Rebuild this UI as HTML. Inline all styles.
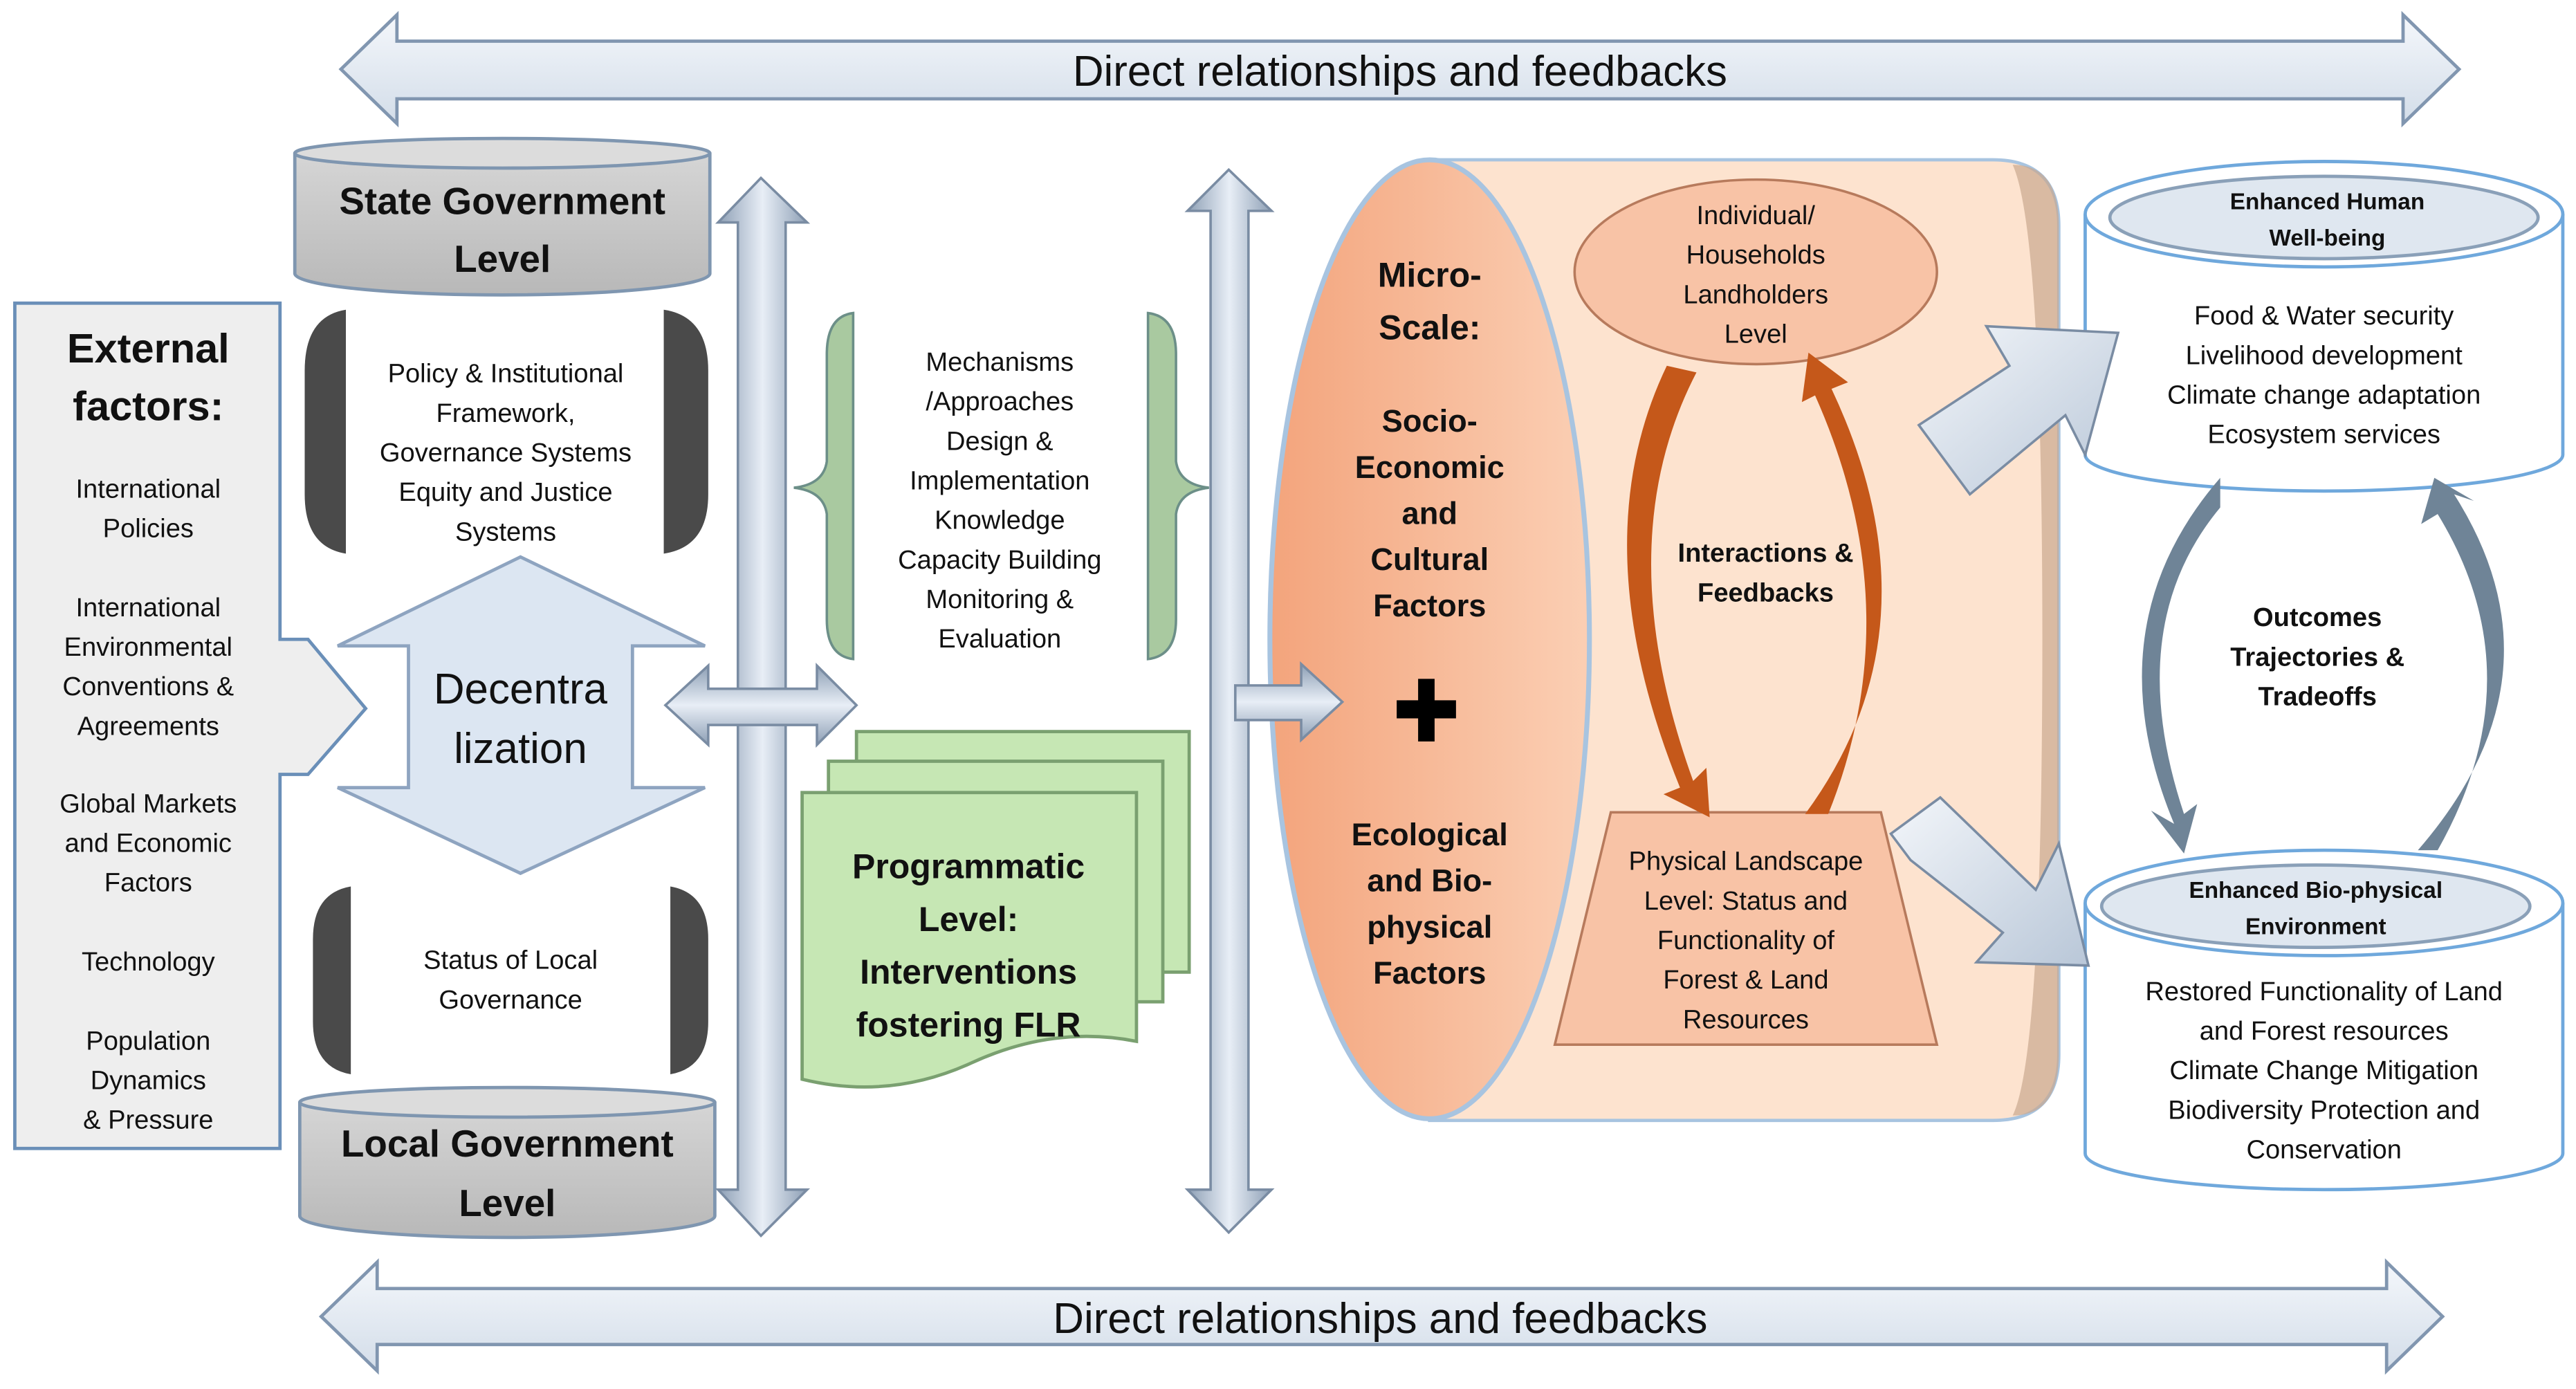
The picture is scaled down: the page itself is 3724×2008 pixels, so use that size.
<!DOCTYPE html>
<html><head><meta charset="utf-8"><style>
html,body{margin:0;padding:0;background:#fff;}
svg{display:block;}
text{font-family:"Liberation Sans",sans-serif;fill:#111;text-anchor:middle;}
.n{font-size:16px;}
.b{font-weight:bold;}
</style></head><body>
<svg width="3724" height="2008" viewBox="0 0 1564 843" preserveAspectRatio="none" xmlns="http://www.w3.org/2000/svg">
<defs>
<linearGradient id="gb" x1="0" y1="0" x2="0" y2="1"><stop offset="0" stop-color="#f4f7fb"/><stop offset="1" stop-color="#d3dde9"/></linearGradient>
<linearGradient id="gv" x1="0" y1="0" x2="1" y2="0"><stop offset="0" stop-color="#8d9fb5"/><stop offset="0.5" stop-color="#e8eef6"/><stop offset="1" stop-color="#8d9fb5"/></linearGradient>
<linearGradient id="gh" x1="0" y1="0" x2="0" y2="1"><stop offset="0" stop-color="#8d9fb5"/><stop offset="0.5" stop-color="#e8eef6"/><stop offset="1" stop-color="#8d9fb5"/></linearGradient>
<linearGradient id="gg" x1="0" y1="0" x2="0" y2="1"><stop offset="0" stop-color="#d5d5d5"/><stop offset="1" stop-color="#b8b8b8"/></linearGradient>
<linearGradient id="go" x1="0" y1="0" x2="1" y2="0"><stop offset="0" stop-color="#f3a47c"/><stop offset="1" stop-color="#fbcfb4"/></linearGradient>
<linearGradient id="ga" x1="0" y1="0" x2="1" y2="1"><stop offset="0" stop-color="#f3f6fa"/><stop offset="1" stop-color="#b9c7d8"/></linearGradient>
</defs>

<!-- top arrow -->
<polygon points="207,42 241,9 241,25 1459,25 1459,9 1493,42 1459,75 1459,60 241,60 241,75" fill="url(#gb)" stroke="#8196b0" stroke-width="2"/>
<text x="850" y="52" style="font-size:26px">Direct relationships and feedbacks</text>
<!-- bottom arrow -->
<polygon points="195,799 229,766 229,782 1449,782 1449,766 1483,799 1449,832 1449,816 229,816 229,832" fill="url(#gb)" stroke="#8196b0" stroke-width="2"/>
<text x="838" y="809" style="font-size:26px">Direct relationships and feedbacks</text>

<!-- External factors -->
<polygon points="9,184 170,184 170,388 187,388 222,430 187,470 170,470 170,697 9,697" fill="#eeeeee" stroke="#6a8fb8" stroke-width="2"/>
<text x="90" y="220" class="b" style="font-size:25px">External</text>
<text x="90" y="255" class="b" style="font-size:25px">factors:</text>
<text x="90" y="302" class="n">International</text><text x="90" y="326" class="n">Policies</text>
<text x="90" y="374" class="n">International</text><text x="90" y="398" class="n">Environmental</text><text x="90" y="422" class="n">Conventions &amp;</text><text x="90" y="446" class="n">Agreements</text>
<text x="90" y="493" class="n">Global Markets</text><text x="90" y="517" class="n">and Economic</text><text x="90" y="541" class="n">Factors</text>
<text x="90" y="589" class="n">Technology</text>
<text x="90" y="637" class="n">Population</text><text x="90" y="661" class="n">Dynamics</text><text x="90" y="685" class="n">&amp; Pressure</text>

<!-- State cylinder -->
<path d="M179,94 L179,166 A126,13 0 0 0 431,166 L431,94 Z" fill="url(#gg)" stroke="#7f96b0" stroke-width="2"/>
<ellipse cx="305" cy="93" rx="126" ry="9" fill="#dcdcdc" stroke="#7f96b0" stroke-width="2"/>
<text x="305" y="130" class="b" style="font-size:23px">State Government</text>
<text x="305" y="165" class="b" style="font-size:23px">Level</text>
<!-- Local cylinder -->
<path d="M182,670 L182,738 A126,13 0 0 0 434,738 L434,670 Z" fill="url(#gg)" stroke="#7f96b0" stroke-width="2"/>
<ellipse cx="308" cy="669" rx="126" ry="9" fill="#dcdcdc" stroke="#7f96b0" stroke-width="2"/>
<text x="308" y="702" class="b" style="font-size:23px">Local Government</text>
<text x="308" y="738" class="b" style="font-size:23px">Level</text>

<!-- dark brackets -->
<path d="M210,188 Q185,192 185,225 L185,300 Q185,332 210,336 Z" fill="#4a4a4a"/>
<path d="M403,188 Q430,192 430,225 L430,300 Q430,332 403,336 Z" fill="#4a4a4a"/>
<path d="M213,538 Q190,542 190,570 L190,620 Q190,648 213,652 Z" fill="#4a4a4a"/>
<path d="M407,538 Q430,542 430,570 L430,620 Q430,648 407,652 Z" fill="#4a4a4a"/>
<text x="307" y="232" class="n">Policy &amp; Institutional</text>
<text x="307" y="256" class="n">Framework,</text>
<text x="307" y="280" class="n">Governance Systems</text>
<text x="307" y="304" class="n">Equity and Justice</text>
<text x="307" y="328" class="n">Systems</text>
<text x="310" y="588" class="n">Status of Local</text>
<text x="310" y="612" class="n">Governance</text>

<!-- Decentralization -->
<polygon points="316,338 428,392 384,392 384,478 428,478 316,530 205,478 248,478 248,392 205,392" fill="#dce6f2" stroke="#8ea4c0" stroke-width="2"/>
<text x="316" y="427" style="font-size:26px">Decentra</text>
<text x="316" y="463" style="font-size:26px">lization</text>

<!-- vertical arrow 1 -->
<polygon points="462,108 490,135 477,135 477,722 490,722 462,750 436,722 448,722 448,135 436,135" fill="url(#gv)" stroke="#7a8ca3" stroke-width="1.5"/>
<polygon points="404,428 430,404 430,418 496,418 496,404 520,428 496,452 496,440 430,440 430,452" fill="url(#gh)" stroke="#7a8ca3" stroke-width="1.5"/>

<!-- green braces -->
<path d="M518,190 Q502,192 502,215 L502,280 Q500,294 482,296 Q500,298 502,312 L502,376 Q502,398 518,400 Z" fill="#a9c9a0" stroke="#6c8f88" stroke-width="1.5"/>
<path d="M697,190 Q714,192 714,215 L714,280 Q716,294 734,296 Q716,298 714,312 L714,376 Q714,398 697,400 Z" fill="#a9c9a0" stroke="#6c8f88" stroke-width="1.5"/>
<text x="607" y="225" class="n">Mechanisms</text>
<text x="607" y="249" class="n">/Approaches</text>
<text x="607" y="273" class="n">Design &amp;</text>
<text x="607" y="297" class="n">Implementation</text>
<text x="607" y="321" class="n">Knowledge</text>
<text x="607" y="345" class="n">Capacity Building</text>
<text x="607" y="369" class="n">Monitoring &amp;</text>
<text x="607" y="393" class="n">Evaluation</text>

<!-- Programmatic pages -->
<rect x="520" y="444" width="202" height="146" fill="#c6e7b4" stroke="#7aa070" stroke-width="2"/>
<rect x="503" y="462" width="203" height="146" fill="#c6e7b4" stroke="#7aa070" stroke-width="2"/>
<path d="M487,481 L690,481 L690,632 Q640,622 590,645 Q540,668 487,655 Z" fill="#c6e7b4" stroke="#7aa070" stroke-width="2"/>
<text x="588" y="533" class="b" style="font-size:21px">Programmatic</text>
<text x="588" y="565" class="b" style="font-size:21px">Level:</text>
<text x="588" y="597" class="b" style="font-size:21px">Interventions</text>
<text x="588" y="629" class="b" style="font-size:21px">fostering FLR</text>

<!-- vertical arrow 2 -->
<polygon points="746,103 772,128 758,128 758,722 772,722 746,748 721,722 735,722 735,128 721,128" fill="url(#gv)" stroke="#7a8ca3" stroke-width="1.5"/>

<!-- big cylinder -->
<path d="M868,97 L1210,97 Q1250,97 1250,137 L1250,640 Q1250,680 1210,680 L868,680 Z" fill="#fde3cf" stroke="#a8c4e0" stroke-width="2"/>
<path d="M1222,100 Q1250,100 1250,137 L1250,640 Q1250,677 1222,677 Q1240,640 1240,388 Q1240,140 1222,100 Z" fill="#c9a88f" opacity="0.7"/>
<ellipse cx="868" cy="388" rx="97" ry="291" fill="url(#go)" stroke="#a8c4e0" stroke-width="3"/>
<polygon points="750,416 790,416 790,403 815,426 790,449 790,437 750,437" fill="url(#gh)" stroke="#7a8ca3" stroke-width="1.5"/>
<text x="868" y="174" class="b" style="font-size:21px">Micro-</text>
<text x="868" y="206" class="b" style="font-size:21px">Scale:</text>
<text x="868" y="262" class="b" style="font-size:19px">Socio-</text>
<text x="868" y="290" class="b" style="font-size:19px">Economic</text>
<text x="868" y="318" class="b" style="font-size:19px">and</text>
<text x="868" y="346" class="b" style="font-size:19px">Cultural</text>
<text x="868" y="374" class="b" style="font-size:19px">Factors</text>
<path d="M861,412 h10 v13 h13 v11 h-13 v14 h-10 v-14 h-13 v-11 h13 z" fill="#000"/>
<text x="868" y="513" class="b" style="font-size:19px">Ecological</text>
<text x="868" y="541" class="b" style="font-size:19px">and Bio-</text>
<text x="868" y="569" class="b" style="font-size:19px">physical</text>
<text x="868" y="597" class="b" style="font-size:19px">Factors</text>

<ellipse cx="1066" cy="165" rx="110" ry="56" fill="#f8c3a6" stroke="#b77a5c" stroke-width="1.5"/>
<text x="1066" y="136" class="n">Individual/</text>
<text x="1066" y="160" class="n">Households</text>
<text x="1066" y="184" class="n">Landholders</text>
<text x="1066" y="208" class="n">Level</text>
<polygon points="978,493 1142,493 1176,634 944,634" fill="#f8c3a6" stroke="#b77a5c" stroke-width="1.5"/>
<text x="1060" y="528" class="n">Physical Landscape</text>
<text x="1060" y="552" class="n">Level: Status and</text>
<text x="1060" y="576" class="n">Functionality of</text>
<text x="1060" y="600" class="n">Forest &amp; Land</text>
<text x="1060" y="624" class="n">Resources</text>
<text x="1072" y="341" class="b" style="font-size:16px">Interactions &amp;</text>
<text x="1072" y="365" class="b" style="font-size:16px">Feedbacks</text>
<!-- orange arrows -->
<path d="M1012,222 Q960,330 1020,478 L1010,482 L1038,496 L1036,466 L1028,474 Q976,330 1030,226 Z" fill="#c5581a"/>
<path d="M1096,494 Q1180,380 1112,236 L1122,232 L1098,214 L1094,244 L1102,240 Q1160,370 1110,494 Z" fill="#c5581a"/>

<!-- right cylinders -->
<path d="M1266,130 L1266,276 A145,22 0 0 0 1556,276 L1556,130" fill="#fff" stroke="#6fa8dc" stroke-width="2"/>
<ellipse cx="1411" cy="130" rx="145" ry="32" fill="#fff" stroke="#6fa8dc" stroke-width="2"/>
<ellipse cx="1411" cy="132" rx="130" ry="25" fill="#dfe7f0" stroke="#8aa0b8" stroke-width="2"/>
<text x="1413" y="127" class="b" style="font-size:14px">Enhanced Human</text>
<text x="1413" y="149" class="b" style="font-size:14px">Well-being</text>
<text x="1411" y="197" class="n">Food &amp; Water security</text>
<text x="1411" y="221" class="n">Livelihood development</text>
<text x="1411" y="245" class="n">Climate change adaptation</text>
<text x="1411" y="269" class="n">Ecosystem services</text>

<path d="M1266,548 L1266,700 A145,22 0 0 0 1556,700 L1556,548" fill="#fff" stroke="#6fa8dc" stroke-width="2"/>
<ellipse cx="1411" cy="548" rx="145" ry="32" fill="#fff" stroke="#6fa8dc" stroke-width="2"/>
<ellipse cx="1406" cy="550" rx="130" ry="25" fill="#dfe7f0" stroke="#8aa0b8" stroke-width="2"/>
<text x="1406" y="545" class="b" style="font-size:14px">Enhanced Bio-physical</text>
<text x="1406" y="567" class="b" style="font-size:14px">Environment</text>
<text x="1411" y="607" class="n">Restored Functionality of Land</text>
<text x="1411" y="631" class="n">and Forest resources</text>
<text x="1411" y="655" class="n">Climate Change Mitigation</text>
<text x="1411" y="679" class="n">Biodiversity Protection and</text>
<text x="1411" y="703" class="n">Conservation</text>

<!-- block arrows -->
<polygon points="1165,258 1220,222 1206,198 1286,202 1266,276 1254,252 1196,300" fill="url(#ga)" stroke="#7a8ca3" stroke-width="1.5"/>
<polygon points="1148,506 1178,484 1236,540 1250,512 1268,586 1200,584 1216,566 1160,522" fill="url(#ga)" stroke="#7a8ca3" stroke-width="1.5"/>

<!-- gray loop arrows -->
<path d="M1348,290 Q1270,380 1320,500 L1306,492 L1326,518 L1334,488 L1326,494 Q1288,380 1348,308 Z" fill="#6f8497"/>
<path d="M1468,516 Q1560,410 1490,300 L1502,304 L1478,290 L1470,318 L1480,312 Q1540,410 1480,516 Z" fill="#6f8497"/>
<text x="1407" y="380" class="b" style="font-size:16px">Outcomes</text>
<text x="1407" y="404" class="b" style="font-size:16px">Trajectories &amp;</text>
<text x="1407" y="428" class="b" style="font-size:16px">Tradeoffs</text>
</svg>
</body></html>
